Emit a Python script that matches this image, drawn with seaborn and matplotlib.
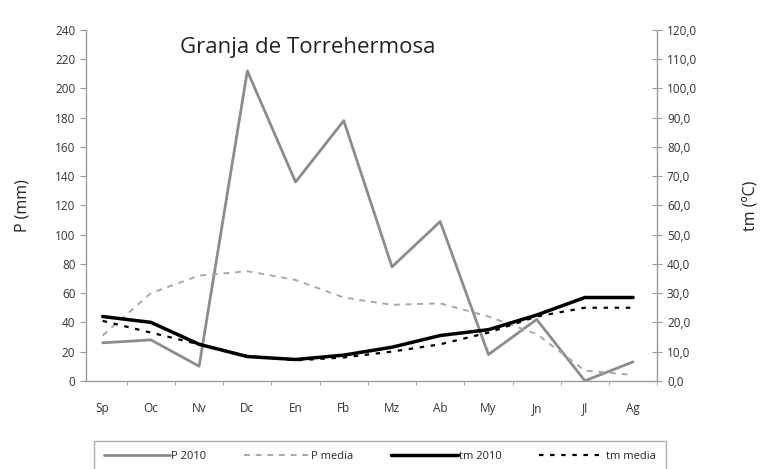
import numpy as np
import seaborn as sns
from matplotlib import pyplot as plt
from matplotlib.lines import Line2D
from matplotlib.ticker import FuncFormatter

sns.set_style("white")
plt.rcParams["font.family"] = ["Open Sans", "DejaVu Sans"]

# data ---------------------------------------------------------------------
meses = ["Sp", "Oc", "Nv", "Dc", "En", "Fb", "Mz", "Ab", "My", "Jn", "Jl", "Ag"]
p_2010 = [26, 28, 10, 212, 136, 178, 78, 109, 18, 42, 0, 13]
p_media = [31, 60, 72, 75, 69, 57, 52, 53, 44, 32, 7, 4]
tm_2010 = [22.0, 20.0, 12.5, 8.3, 7.3, 8.8, 11.5, 15.5, 17.5, 22.5, 28.5, 28.5]
tm_media = [20.5, 16.5, 12.5, 8.5, 7.0, 8.0, 10.0, 12.5, 16.5, 22.0, 25.0, 25.0]

x = np.arange(len(meses))
grey = "#8c8c8c"
axcol = "#9a9a9a"

fig = plt.figure(figsize=(7.66, 4.69), dpi=100)
ax = fig.add_axes([0.112, 0.188, 0.746, 0.748])
ax2 = ax.twinx()

sns.lineplot(x=x, y=p_2010, ax=ax, color=grey, lw=2, label="P 2010", legend=False)
sns.lineplot(x=x, y=p_media, ax=ax, color="#a8a8a8", lw=1.4, label="P media", legend=False)
ax.lines[-1].set_linestyle((0, (3, 3)))
sns.lineplot(x=x, y=tm_2010, ax=ax2, color="black", lw=2.5, label="tm 2010", legend=False)
sns.lineplot(x=x, y=tm_media, ax=ax2, color="black", lw=1.6, label="tm media", legend=False)
ax2.lines[-1].set_linestyle((0, (2, 3)))

ax.set_xlim(-0.35, 11.48)
ax.set_ylim(0, 240)
ax2.set_ylim(0, 120)
ax.set_yticks(np.arange(0, 241, 20))
ax2.set_yticks(np.arange(0, 121, 10))
ax2.yaxis.set_major_formatter(FuncFormatter(lambda v, p: f"{v:.1f}".replace(".", ",")))

ax.set_xticks(x)
ax.set_xticklabels(meses)
ax.set_xticks(x + 0.5, minor=True)

for a in (ax, ax2):
    for s in a.spines.values():
        s.set_color(axcol)
        s.set_linewidth(1)
    a.spines["top"].set_visible(False)
ax.spines["right"].set_visible(False)
ax2.spines["left"].set_visible(False)
ax2.spines["bottom"].set_visible(False)

ax.tick_params(axis="y", direction="out", length=4, color=axcol, labelsize=8.5,
               labelcolor="#333333", left=True)
ax.tick_params(axis="x", which="major", length=0, labelsize=8.5, labelcolor="#333333", pad=15)
ax.tick_params(axis="x", which="minor", direction="out", length=3, color=axcol, bottom=True)
ax2.tick_params(axis="y", direction="inout", length=7, color=axcol, labelsize=8.5,
                labelcolor="#333333", right=True)

ax.set_ylabel("P (mm)", fontsize=11.5, color="#222222", labelpad=18)
ax2.set_ylabel("tm (ºC)", fontsize=11.5, color="#222222", rotation=90, labelpad=33)

ax.text(0.165, 0.98, "Granja de Torrehermosa", transform=ax.transAxes,
        fontsize=16, color="#222222", va="top")

handles = [
    Line2D([], [], color=grey, lw=2),
    Line2D([], [], color="#a8a8a8", lw=1.4, ls=(0, (3, 3))),
    Line2D([], [], color="black", lw=2.5),
    Line2D([], [], color="black", lw=1.6, ls=(0, (2, 3))),
]
leg = fig.legend(handles, ["P 2010", "P media", "tm 2010", "tm media"], ncol=4,
                 loc="upper left", bbox_to_anchor=(0.115, 0.062, 0.762, 0.01),
                 mode="expand", fontsize=8, handlelength=6, handletextpad=0.1,
                 frameon=True, fancybox=False, borderpad=0.9)
leg.get_frame().set_edgecolor(axcol)
leg.get_frame().set_linewidth(1)

fig.savefig("out.png", dpi=100)
